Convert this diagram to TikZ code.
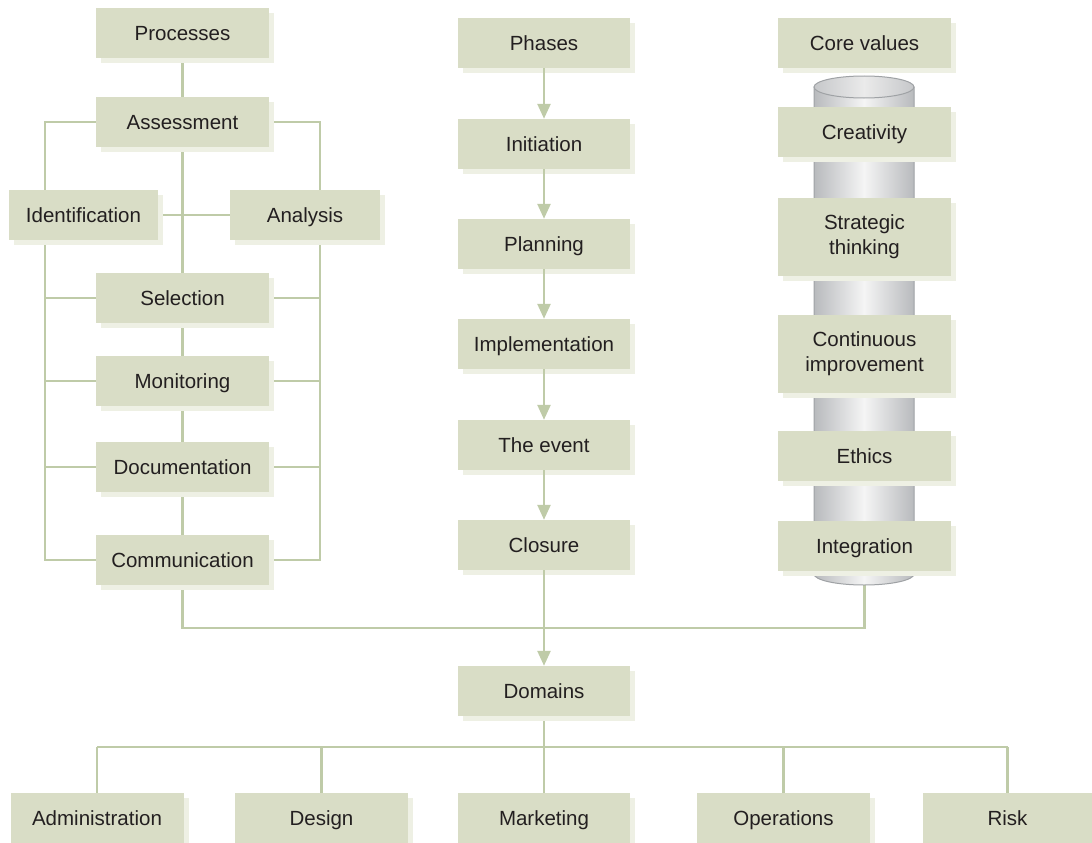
\documentclass[tikz,border=0pt]{standalone}
\usepackage{fontspec}
\setmainfont{Liberation Sans}
\usetikzlibrary{arrows.meta,shadows,backgrounds}
\definecolor{boxc}{HTML}{D9DDC6}
\definecolor{linec}{HTML}{BFCBA8}
\definecolor{shadc}{HTML}{EEF0E4}
\definecolor{txtc}{HTML}{231F20}
\definecolor{cylg}{HTML}{B8BABD}
\definecolor{cyle}{HTML}{9FA2A5}
\begin{document}
\begin{tikzpicture}[x=1pt,y=-1pt,
  box/.style={fill=boxc, text=txtc, minimum height=50pt, minimum width=173pt, inner sep=0pt, align=center,
    font=\fontsize{20.5}{25}\selectfont,
    drop shadow={shadow xshift=5pt, shadow yshift=-5pt, fill=shadc, opacity=1}},
  sbox/.style={box, text height=15pt, text depth=0.5pt},
  conn/.style={draw=linec, line width=2.5pt},
  arr/.style={conn, -{Triangle[length=15pt,width=13pt]}}]
\useasboundingbox (0,0) rectangle (1092,843);

% cylinder
\shade[left color=cylg, right color=cylg, middle color=white!96!black, draw=cyle, line width=1pt]
  (814,87) -- (814,574) arc[start angle=180, end angle=360, x radius=50pt, y radius=11pt] -- (914,87) -- cycle;
\shade[left color=cylg!80, right color=cylg!80, middle color=white!92!black, draw=cyle, line width=1pt]
  (864,87) ellipse[x radius=50pt, y radius=11pt];

% left column
\node[sbox] (proc) at (182.5,33) {Processes};
\node[sbox] (ass)  at (182.5,122) {Assessment};
\node[sbox, minimum width=149pt] (ident) at (83.5,215) {Identification};
\node[sbox, minimum width=150pt] (anal) at (305,215) {Analysis};
\node[sbox] (sel)  at (182.5,298) {Selection};
\node[sbox] (mon)  at (182.5,381) {Monitoring};
\node[sbox] (doc)  at (182.5,467) {Documentation};
\node[sbox] (comm) at (182.5,560) {Communication};

% middle column
\node[sbox, minimum width=172pt] (phas) at (544,43) {Phases};
\node[sbox, minimum width=172pt] (init) at (544,144) {Initiation};
\node[sbox, minimum width=172pt] (plan) at (544,244) {Planning};
\node[sbox, minimum width=172pt] (impl) at (544,344) {Implementation};
\node[sbox, minimum width=172pt] (evt)  at (544,445) {The event};
\node[sbox, minimum width=172pt] (clos) at (544,545) {Closure};
\node[sbox, minimum width=172pt] (dom)  at (544,691) {Domains};

% right column
\node[sbox] (core)  at (864.5,43) {Core values};
\node[sbox] (crea)  at (864.5,132) {Creativity};
\node[box, minimum height=78pt] (strat) at (864.5,237) {Strategic\\thinking};
\node[box, minimum height=78pt] (cont)  at (864.5,354) {Continuous\\improvement};
\node[sbox] (eth)   at (864.5,456) {Ethics};
\node[sbox] (integ) at (864.5,546) {Integration};

% bottom row
\node[sbox] (adm)  at (97,818) {Administration};
\node[sbox] (des)  at (321.5,818) {Design};
\node[sbox, minimum width=172pt] (mkt)  at (544,818) {Marketing};
\node[sbox] (ops)  at (783.5,818) {Operations};
\node[sbox, minimum width=169pt] (risk) at (1007.5,818) {Risk};

\coordinate (Ltop) at (45,122);
\coordinate (Lbot) at (45,560);
\coordinate (Rtop) at (320,122);
\coordinate (Rbot) at (320,560);
\coordinate (J) at (182.5,628);
\coordinate (H) at (544,747);

\begin{scope}[on background layer]
  \draw[conn] (proc.south) -- (J) -- (J -| integ) -- (integ.south);
  \draw[conn] (ass.west) -- (Ltop) -- (Lbot) -- (comm.west);
  \draw[conn] (ass.east) -- (Rtop) -- (Rbot) -- (comm.east);
  \draw[conn] (ident.east) -- (anal.west);
  \foreach \n in {sel,mon,doc} {
    \draw[conn] (\n -| Ltop) -- (\n -| Rtop);
  }
  \draw[conn] (dom.south) -- (H);
  \draw[conn] (adm |- H) -- (risk |- H);
  \foreach \n in {adm,des,mkt,ops,risk} {
    \draw[conn] (\n |- H) -- (\n.north);
  }
\end{scope}

\draw[arr] (phas.south) -- (init.north);
\draw[arr] (init.south) -- (plan.north);
\draw[arr] (plan.south) -- (impl.north);
\draw[arr] (impl.south) -- (evt.north);
\draw[arr] (evt.south) -- (clos.north);
\draw[arr] (clos.south) -- (dom.north);
\end{tikzpicture}
\end{document}
